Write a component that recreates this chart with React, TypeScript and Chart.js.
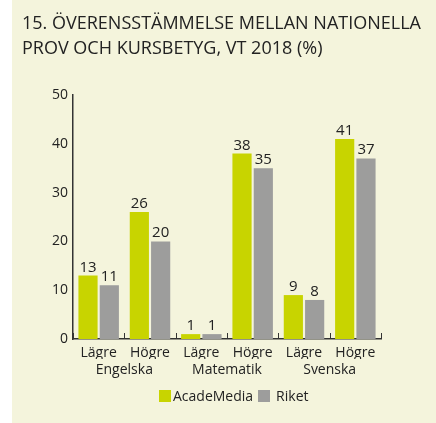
import React, { useEffect, useRef } from "react";
import { Chart, registerables } from "chart.js";

Chart.register(...registerables);

const titleLines = ["15. ÖVERENSSTÄMMELSE MELLAN NATIONELLA", "PROV OCH KURSBETYG, VT 2018 (%)"];
const categories = ["Lägre", "Högre", "Lägre", "Högre", "Lägre", "Högre"];
const subjects = ["Engelska", "Matematik", "Svenska"];
const acadeMedia = [13, 26, 1, 38, 9, 41];
const riket = [11, 20, 1, 35, 8, 37];
const seriesNames = ["AcadeMedia", "Riket"];
const yMax = 50;
const yStep = 10;

const GREEN = "#c8d400";
const GRAY = "#9d9d9c";
const BG = "#f4f4dc";
const TEXT = "#222222";
const AXIS = "#333333";
const FONT = "'Open Sans', sans-serif";

const valueLabels = {
  id: "valueLabels",
  afterDatasetsDraw(chart: any) {
    const ctx = chart.ctx;
    ctx.save();
    ctx.font = `15px ${FONT}`;
    ctx.fillStyle = TEXT;
    ctx.textAlign = "center";
    ctx.textBaseline = "alphabetic";
    chart.data.datasets.forEach((ds: any, di: number) => {
      const meta = chart.getDatasetMeta(di);
      meta.data.forEach((el: any, i: number) => {
        ctx.fillText(String(ds.data[i]), el.x, el.y - 4);
      });
    });
    ctx.restore();
  },
};

const axisExtras = {
  id: "axisExtras",
  afterDraw(chart: any) {
    const sc = chart.scales.x;
    const n = sc.getLabels().length;
    const ctx = chart.ctx;
    ctx.save();
    ctx.strokeStyle = AXIS;
    ctx.lineWidth = 1;
    for (let i = 0; i <= n; i++) {
      const px = Math.round(sc.left + (i * (sc.right - sc.left)) / n) + 0.5;
      ctx.beginPath();
      ctx.moveTo(px, sc.top - 6);
      ctx.lineTo(px, sc.top);
      ctx.stroke();
    }
    ctx.font = `14px ${FONT}`;
    ctx.fillStyle = TEXT;
    ctx.textAlign = "center";
    ctx.textBaseline = "alphabetic";
    const per = n / subjects.length;
    subjects.forEach((s, g) => {
      const a = sc.getPixelForTick(g * per);
      const b = sc.getPixelForTick(g * per + per - 1);
      ctx.fillText(s, (a + b) / 2, sc.top + 35);
    });
    ctx.restore();
  },
};

export default function App() {
  const ref = useRef<HTMLCanvasElement>(null);

  useEffect(() => {
    if (!ref.current) return;
    const chart = new Chart(ref.current, {
      type: "bar",
      data: {
        labels: categories,
        datasets: [
          { label: seriesNames[0], data: acadeMedia, backgroundColor: GREEN, xAxisID: "x", yAxisID: "y", barPercentage: 0.9, categoryPercentage: 0.83 },
          { label: seriesNames[1], data: riket, backgroundColor: GRAY, xAxisID: "x", yAxisID: "y", barPercentage: 0.9, categoryPercentage: 0.83 },
        ],
      },
      options: {
        responsive: false,
        animation: false,
        font: { family: FONT },
        layout: { padding: { top: 95, right: 55, left: 0, bottom: 64 } },
        plugins: { legend: { display: false }, title: { display: false }, tooltip: { enabled: false } },
        scales: {
          x: {
            type: "category",
            position: "bottom",
            grid: { display: false, drawTicks: false },
            border: { display: true, color: AXIS, width: 1.5 },
            ticks: { color: TEXT, font: { size: 14, family: FONT }, padding: 6, maxRotation: 0, autoSkip: false },
            afterFit(scale: any) { scale.height = 20; },
          },
          y: {
            type: "linear",
            min: 0,
            max: yMax,
            ticks: { stepSize: yStep, color: TEXT, font: { size: 14, family: FONT }, padding: 5 },
            grid: { display: false, drawTicks: false },
            border: { display: true, color: AXIS, width: 1.5 },
            afterFit(scale: any) { scale.width = 61; },
          },
        },
      },
      plugins: [valueLabels, axisExtras],
    } as any);
    return () => chart.destroy();
  }, []);

  const legendColors = [GREEN, GRAY];

  return (
    <div style={{ position: "absolute", left: 0, top: 0, width: 436, height: 423, background: "#ffffff", overflow: "hidden", fontFamily: FONT }}>
      <div style={{ position: "absolute", left: 12, top: 0, width: 424, height: 423, background: BG }}>
        <canvas ref={ref} width={424} height={423} style={{ position: "absolute", left: 0, top: 0, width: 424, height: 423 }} />
        <div style={{ position: "absolute", left: 10, top: 10, fontSize: 18, lineHeight: "25px", color: TEXT, whiteSpace: "nowrap" }}>
          {titleLines.map((t, i) => (
            <div key={i}>{t}</div>
          ))}
        </div>
        <div style={{ position: "absolute", left: 147, top: 390, display: "flex", alignItems: "center", fontSize: 14, lineHeight: "12px", color: TEXT }}>
          {seriesNames.map((n, i) => (
            <div key={n} style={{ display: "flex", alignItems: "center", marginRight: 5 }}>
              <span style={{ display: "inline-block", width: 12, height: 12, background: legendColors[i], marginRight: i === 0 ? 2 : 6 }} />
              <span>{n}</span>
            </div>
          ))}
        </div>
      </div>
    </div>
  );
}
